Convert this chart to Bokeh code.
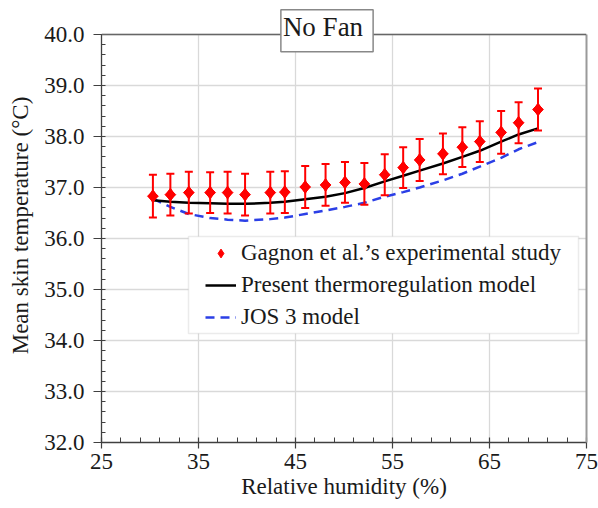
from bokeh.plotting import figure
from bokeh.models import (ColumnDataSource, Range1d, FixedTicker, PrintfTickFormatter,
                          Whisker, TeeHead, Legend, LegendItem, BoxAnnotation, Label,
                          Span, LinearAxis)
from bokeh.embed import file_html
from bokeh.resources import INLINE

# ---- data ----
rh_exp = [30.3, 32.1, 34.0, 36.2, 38.0, 39.8, 42.4, 43.9, 46.0, 48.1, 50.1,
          52.1, 54.2, 56.1, 57.8, 60.2, 62.2, 64.0, 66.2, 68.0, 70.0]
tsk_exp = [36.83, 36.86, 36.90, 36.90, 36.90, 36.86, 36.90, 36.91, 37.01, 37.05, 37.10,
           37.07, 37.25, 37.39, 37.54, 37.66, 37.79, 37.90, 38.08, 38.27, 38.53]
tsk_err = [0.42, 0.41, 0.41, 0.40, 0.41, 0.41, 0.41, 0.41, 0.41, 0.41, 0.40,
           0.41, 0.40, 0.40, 0.41, 0.40, 0.39, 0.40, 0.42, 0.40, 0.41]

rh_model = [30.3, 32.1, 34.0, 36.2, 38.0, 39.8, 42.4, 43.9, 46.0, 48.1, 50.1,
            52.1, 54.2, 56.1, 57.8, 60.2, 62.2, 64.0, 66.2, 68.0, 70.0]
tsk_present = [36.75, 36.72, 36.70, 36.69, 36.68, 36.68, 36.70, 36.72, 36.77, 36.82, 36.89,
               36.99, 37.12, 37.23, 37.33, 37.47, 37.60, 37.72, 37.90, 38.04, 38.16]
tsk_jos3 = [36.78, 36.62, 36.48, 36.40, 36.37, 36.35, 36.38, 36.41, 36.48, 36.55, 36.62,
            36.70, 36.82, 36.91, 37.00, 37.14, 37.27, 37.41, 37.58, 37.75, 37.89]

x_major_ticks = [25, 35, 45, 55, 65, 75]
x_minor_ticks = [27, 29, 31, 33, 37, 39, 41, 43, 47, 49, 51, 53, 57, 59, 61, 63, 67, 69, 71, 73]
y_major_ticks = [32, 33, 34, 35, 36, 37, 38, 39, 40]
y_minor_ticks = [round(32 + 0.2 * i, 1) for i in range(41) if i % 5 != 0]
x_lim = (25, 75)
y_lim = (32, 40)
title_text = "No Fan"
x_label = "Relative humidity (%)"
y_label = "Mean skin temperature (\u00b0C)"
legend_labels = ["Gagnon et al.\u2019s experimental study",
                 "Present thermoregulation model",
                 "JOS 3 model"]

FONT = "Liberation Serif"
TXT = "#1a1a1a"

# frame extends a little above y=40 so that the title box can overlap the top border
p = figure(width=598, height=508, output_backend="svg", toolbar_location=None,
           x_range=Range1d(*x_lim), y_range=Range1d(y_lim[0], y_lim[1] + 0.51),
           min_border_left=101, min_border_right=12, min_border_top=8, min_border_bottom=66)
p.background_fill_color = "white"
p.border_fill_color = "white"
p.outline_line_color = None

# axes
p.xaxis.ticker = FixedTicker(ticks=x_major_ticks, minor_ticks=x_minor_ticks)
p.yaxis.ticker = FixedTicker(ticks=y_major_ticks, minor_ticks=y_minor_ticks)
p.yaxis.formatter = PrintfTickFormatter(format="%.1f")
p.yaxis.bounds = y_lim
p.axis.axis_line_color = "#404040"
p.axis.axis_line_width = 1.3
p.axis.major_tick_line_color = "#404040"
p.axis.minor_tick_line_color = "#404040"
p.axis.major_tick_line_width = 1.2
p.axis.minor_tick_line_width = 1.0
p.xaxis.major_label_text_font = FONT
p.yaxis.major_label_text_font = FONT
p.xaxis.major_label_text_font_size = "23px"
p.yaxis.major_label_text_font_size = "23px"
p.xaxis.major_label_text_color = TXT
p.yaxis.major_label_text_color = TXT
p.xaxis.axis_label_text_font = FONT
p.yaxis.axis_label_text_font = FONT
p.xaxis.axis_label_text_font_size = "23px"
p.yaxis.axis_label_text_font_size = "23px"
p.xaxis.axis_label_text_font_style = "normal"
p.yaxis.axis_label_text_font_style = "normal"
p.xaxis.axis_label_text_color = TXT
p.yaxis.axis_label_text_color = TXT

p.xaxis.major_tick_in = 5
p.xaxis.major_tick_out = 6
p.xaxis.minor_tick_in = 5
p.xaxis.minor_tick_out = 0
p.xaxis.major_label_standoff = 5
p.xaxis.axis_label = x_label
p.xaxis.axis_label_standoff = 2
p.yaxis.major_tick_in = 4
p.yaxis.major_tick_out = 8
p.yaxis.minor_tick_in = 4
p.yaxis.minor_tick_out = 0
p.yaxis.major_label_standoff = 9
p.yaxis.axis_label = y_label
p.yaxis.axis_label_standoff = 8

p.xgrid.grid_line_color = "#d9d9d9"
p.ygrid.grid_line_color = "#d9d9d9"
p.xgrid.grid_line_width = 1.3
p.ygrid.grid_line_width = 1.3
p.xgrid.cross_bounds = y_lim

# frame border: top line at y=40 and a grey right edge
p.add_layout(Span(location=y_lim[1], dimension="width", line_color="#666666", line_width=1.5))
right_edge = LinearAxis(ticker=FixedTicker(ticks=[]), bounds=y_lim,
                        axis_line_color="#9a9a9a", axis_line_width=2,
                        major_tick_line_color=None, minor_tick_line_color=None,
                        major_label_text_font_size="0px", major_tick_out=0,
                        major_label_standoff=0)
p.add_layout(right_edge, "right")

# data sources
src_exp = ColumnDataSource(dict(x=rh_exp, y=tsk_exp,
                                upper=[a + b for a, b in zip(tsk_exp, tsk_err)],
                                lower=[a - b for a, b in zip(tsk_exp, tsk_err)]))
src_mod = ColumnDataSource(dict(x=rh_model, present=tsk_present, jos3=tsk_jos3))

r_jos = p.line("x", "jos3", source=src_mod, line_color="#2b3fe6", line_width=2.5,
               line_dash="9 6")
r_pres = p.line("x", "present", source=src_mod, line_color="black", line_width=2.5)

wh = Whisker(base="x", upper="upper", lower="lower", source=src_exp, dimension="height",
             line_color="#ff0000", line_width=2,
             upper_head=TeeHead(size=8, line_color="#ff0000", line_width=2),
             lower_head=TeeHead(size=8, line_color="#ff0000", line_width=2))
wh.level = "glyph"
p.add_layout(wh)

r_exp = p.scatter("x", "y", source=src_exp, marker="diamond", size=13,
                  fill_color="#ff0000", line_color="#ff0000", line_width=1)
p.scatter("x", "y", source=src_exp, marker="square", size=7.6, angle=0.785398,
          fill_color="#ff0000", line_color="#ff0000", line_width=1)

# legend box
box = BoxAnnotation(left=87, right=477, bottom=109, top=206,
                    left_units="screen", right_units="screen",
                    bottom_units="screen", top_units="screen",
                    fill_color="white", fill_alpha=1.0,
                    line_color="#bdbdbd", line_width=1.5)
p.add_layout(box)

legend = Legend(items=[LegendItem(label=legend_labels[0], renderers=[r_exp]),
                       LegendItem(label=legend_labels[1], renderers=[r_pres]),
                       LegendItem(label=legend_labels[2], renderers=[r_jos])],
                location=(104, 112), orientation="vertical",
                border_line_color=None, background_fill_alpha=0.0,
                padding=0, margin=0, spacing=6,
                glyph_width=31, glyph_height=22, label_height=22, label_standoff=5,
                label_text_font=FONT, label_text_font_size="23px",
                label_text_color=TXT)
p.add_layout(legend, "center")

# title box overlapping the top border
title = Label(x=225.5, y=411.8, x_units="screen", y_units="screen", text=title_text,
              text_align="center", text_baseline="middle",
              text_font=FONT, text_font_size="27px", text_color=TXT,
              background_fill_color="white", border_line_color="#888888",
              border_line_width=1.5, padding=(2, 10, 2, 10))
p.add_layout(title)

open("out.html", "w").write(file_html(p, INLINE))
